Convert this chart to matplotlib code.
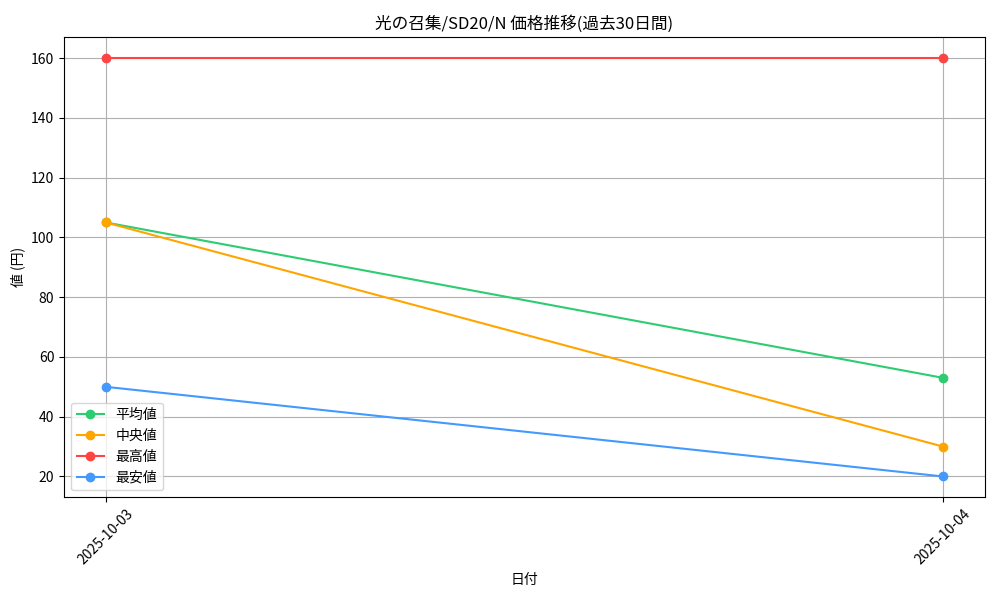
import matplotlib
matplotlib.use('Agg')
import matplotlib.pyplot as plt

plt.rcParams['font.family'] = ['Noto Sans CJK JP', 'DejaVu Sans']

# data
dates = ['2025-10-03', '2025-10-04']
avg_price = [105, 53]
median_price = [105, 30]
max_price = [160, 160]
min_price = [50, 20]

fig, ax = plt.subplots(figsize=(10, 6), dpi=100)
ax.plot(dates, avg_price, marker='o', color='#2ecc71', label='平均値')
ax.plot(dates, median_price, marker='o', color='#ffa500', label='中央値')
ax.plot(dates, max_price, marker='o', color='#ff4444', label='最高値')
ax.plot(dates, min_price, marker='o', color='#4499ff', label='最安値')

ax.set_title('光の召集/SD20/N 価格推移(過去30日間)')
ax.set_xlabel('日付')
ax.set_ylabel('値 (円)')
ax.grid(True)
ax.legend(loc='lower left')
plt.xticks(rotation=45)
plt.subplots_adjust(left=0.064, right=0.985, top=0.938, bottom=0.171)
plt.savefig('out.png')
